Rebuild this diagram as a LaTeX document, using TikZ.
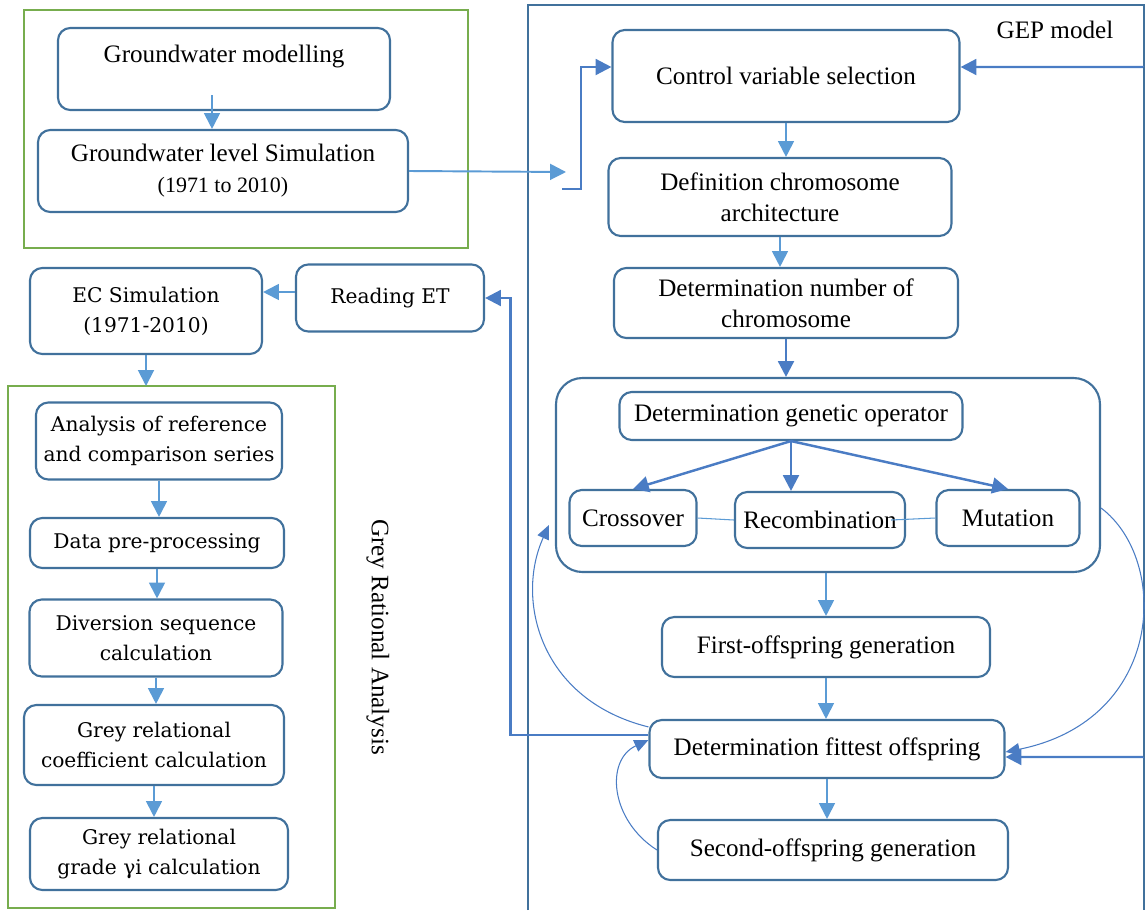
\documentclass[tikz,border=0pt]{standalone}
\usepackage{fontspec}
\setmainfont{Liberation Serif}
\newfontfamily\grafont{DejaVu Serif}
\usetikzlibrary{arrows.meta}
\definecolor{bordo}{HTML}{41719C}
\definecolor{azzurro}{HTML}{5B9BD5}
\definecolor{blu}{HTML}{4A7CC4}
\definecolor{verde}{HTML}{77AD4E}
\tikzset{
  misura/.style 2 args={minimum width=#1*0.02cm, minimum height=#2*0.02cm},
  box/.style={draw=bordo, line width=1.2pt, rounded corners=7pt, align=center,
    fill=white, inner sep=1pt, font=\fontsize{14.3}{17.6}\selectfont},
  grabox/.style={box, font=\grafont\fontsize{11.5}{17}\selectfont},
  cornice/.style={draw=verde, line width=1.2pt},
  frec/.style={draw=azzurro, line width=1.1pt, -{Triangle[length=9pt,width=9pt]}},
  frecspessa/.style={draw=blu, line width=1.4pt, -{Triangle[length=9pt,width=9pt]}},
  sottile/.style={draw=blu, line width=0.6pt},
  etichetta/.style={font=\fontsize{14.3}{16}\selectfont}
}
\begin{document}
\begin{tikzpicture}[x=0.02cm,y=-0.02cm]
  \useasboundingbox (0,0) rectangle (1146,910);
  % Riquadri esterni
  \draw[cornice] (24,10) rectangle (468,248);
  \draw[cornice] (8,386) rectangle (335,908);
  \draw[bordo, line width=1.2pt] (528,910) -- (528,5) -- (1144,5) -- (1144,910);
  \node[etichetta] (gep) at (1055,30) {GEP model};
  \node[etichetta, rotate=-90] (gra) at (378,637) {Grey Rational Analysis};

  % Modello delle acque sotterranee
  \node[box, misura={332}{82}] (gwm) at (224,69) {Groundwater modelling\\ ~};
  \node[box, misura={370}{82}] (gwls) at (223,171)
    {Groundwater level Simulation\\ {\fontsize{12.5}{17.6}\selectfont (1971 to 2010)}};

  % Modello GEP
  \node[box, misura={347}{92}] (ctrl) at (786,76) {Control variable selection};
  \node[box, misura={343}{78}] (defn) at (780,197) {Definition chromosome\\ architecture};
  \node[box, misura={344}{70}] (numb) at (786,303) {Determination number of\\ chromosome};
  \node[box, misura={544}{194}, rounded corners=15pt] (oper) at (828,475) {};
  \node[box, misura={343}{48}] (genop) at (791,416) {Determination genetic operator};
  \node[box, misura={127}{56}] (cross) at (633,518) {Crossover};
  \node[box, misura={170}{56}] (recomb) at (820,520) {Recombination};
  \node[box, misura={143}{56}] (mut) at (1008,518) {Mutation};
  \node[box, misura={328}{60}] (first) at (826,647) {First-offspring generation};
  \node[box, misura={355}{58}] (fittest) at (827,749) {Determination fittest offspring};
  \node[box, misura={350}{60}] (second) at (833,850) {Second-offspring generation};

  % Analisi grigia
  \node[grabox, misura={232}{86}] (ecsim) at (146,311) {EC Simulation\\ (1971-2010)};
  \node[grabox, misura={188}{67}] (readet) at (390,298) {Reading ET};
  \node[grabox, misura={246}{77}] (anal) at (159,441) {Analysis of reference\\ and comparison series};
  \node[grabox, misura={254}{50}] (data) at (157,543) {Data pre-processing};
  \node[grabox, misura={253}{77}] (div) at (156,638) {Diversion sequence\\ calculation};
  \node[grabox, misura={260}{80}] (coef) at (154,745) {Grey relational\\ coefficient calculation};
  \node[grabox, misura={258}{72}] (grade) at (159,854) {Grey relational\\ grade γi calculation};

  % Coordinate libere
  \coordinate (gwm-in) at (212,95);
  \coordinate (ingresso) at (566,172);
  \coordinate (gomito) at (562,189);
  \coordinate (gra-top) at (146,386);
  \coordinate (dx1) at (1144,67);
  \coordinate (dx2) at (1144,757);

  % Frecce
  \draw[frec] (gwm-in) -- (gwm-in |- gwls.north);
  \draw[frec] (gwls.east) -- (ingresso);
  \draw[frecspessa] (gomito) -- ++(19,0) |- ([yshift=0.18cm]ctrl.west);
  \draw[frecspessa] (dx1) -- ([yshift=0.18cm]ctrl.east);
  \draw[frecspessa] (dx2) -- ([yshift=-0.16cm]fittest.east);
  \draw[bordo, line width=1.2pt] (dx1) -- (dx2);
  \draw[frec] (ctrl.south) -- (ctrl.south |- defn.north);
  \draw[frec] (defn.south) -- (defn.south |- numb.north);
  \draw[frecspessa] (numb.south) -- (numb.south |- oper.north);
  \draw[frecspessa] (genop.south) -- (cross.north);
  \draw[frecspessa] (genop.south) -- (genop.south |- recomb.north);
  \draw[frecspessa] (genop.south) -- (mut.north);
  \draw[sottile, draw=azzurro] (cross.east) -- (recomb.west);
  \draw[sottile, draw=azzurro] ([xshift=-0.3cm]recomb.east) -- (mut.west);
  \draw[frec] (first.north |- oper.south) -- (first.north);
  \draw[frec] (first.south) -- (first.south |- fittest.north);
  \draw[frec] (fittest.south) -- (fittest.south |- second.north);
  \draw[frecspessa] ([yshift=0.28cm]fittest.west) -- ++(-138,0) |- (readet.east);
  \draw[frec] ([yshift=0.12cm]readet.west) -- ([yshift=0.12cm]readet.west -| ecsim.east);
  \draw[frec] (ecsim.south) -- (gra-top);
  \draw[frec] (anal.south) -- (anal.south |- data.north);
  \draw[frec] (data.south) -- (data.south |- div.north);
  \draw[frec] (div.south) -- (div.south |- coef.north);
  \draw[frec] (coef.south) -- (coef.south |- grade.north);

  % Cicli di ritorno
  \draw[sottile, -{Triangle[length=8pt,width=7pt]}] ([yshift=-0.16cm]fittest.north west)
    .. controls (540,700) and (515,600) .. ([xshift=-0.12cm,yshift=-1.0cm]oper.west);
  \draw[sottile, -{Triangle[length=8pt,width=7pt]}] ([yshift=-0.66cm]oper.east)
    .. controls (1170,560) and (1165,720) .. ([yshift=-0.06cm]fittest.east);
  \draw[sottile, -{Triangle[length=8pt,width=7pt]}] (second.west)
    .. controls (610,820) and (605,760) .. ([yshift=0.18cm]fittest.west);
\end{tikzpicture}
\end{document}
